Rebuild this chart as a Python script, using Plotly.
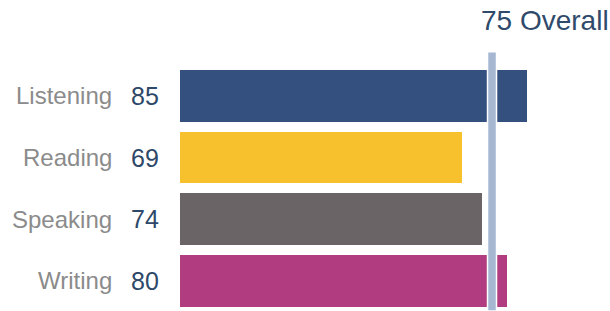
import plotly.graph_objects as go

categories = ["Listening", "Reading", "Speaking", "Writing"]
scores = [85, 69, 74, 80]
bar_colors = ["#34507f", "#f6c12c", "#6a6466", "#b13c7f"]
overall = 75
overall_label = "Overall"

W, H = 610, 311
x0_px = 180
px_per_pt = 4.087
x_max = (W - x0_px) / px_per_pt
pitch = 61.67
first_center = 95.9
r_top = -first_center / pitch
r_bot = r_top + H / pitch

fig = go.Figure()
fig.add_trace(go.Bar(
    x=scores, y=list(range(len(categories))), orientation="h",
    marker=dict(color=bar_colors, line=dict(width=0)),
    width=0.835, hoverinfo="skip",
))

# Overall marker line, anchored at the overall value
fig.add_shape(
    type="rect", xref="x", yref="paper",
    xsizemode="pixel", xanchor=overall, x0=1, x1=10,
    y0=0, y1=1 - 51.7 / H,
    fillcolor="#a6b7d2", line=dict(color="white", width=1.5),
    layer="above",
)

annotations = []
for i, (c, s) in enumerate(zip(categories, scores)):
    annotations.append(dict(
        x=0, y=i, xref="x", yref="y", text=c, showarrow=False,
        xanchor="right", yanchor="middle", xshift=-66,
        font=dict(family="Liberation Sans, Arial", size=24, color="#8b8b8b"),
    ))
    annotations.append(dict(
        x=0, y=i, xref="x", yref="y", text=str(s), showarrow=False,
        xanchor="right", yanchor="middle", xshift=-19,
        font=dict(family="Liberation Sans, Arial", size=25, color="#2d4868"),
    ))
annotations.append(dict(
    x=overall, y=1, xref="x", yref="paper", text=f"{overall} {overall_label}",
    showarrow=False, xanchor="left", yanchor="top", xshift=-8, yshift=-3,
    font=dict(family="Liberation Sans, Arial", size=28, color="#2f4a6a"),
))

fig.update_layout(
    width=W, height=H, margin=dict(l=0, r=0, t=0, b=0),
    paper_bgcolor="white", plot_bgcolor="white",
    showlegend=False, annotations=annotations, bargap=0,
    xaxis=dict(domain=[x0_px / W, 1], range=[0, x_max], visible=False, fixedrange=True),
    yaxis=dict(range=[r_bot, r_top], visible=False, fixedrange=True),
)
fig.write_html(
    "out.html",
    config={"displayModeBar": False},
    post_script="document.body.style.margin='0px';document.body.style.overflow='hidden';",
)
